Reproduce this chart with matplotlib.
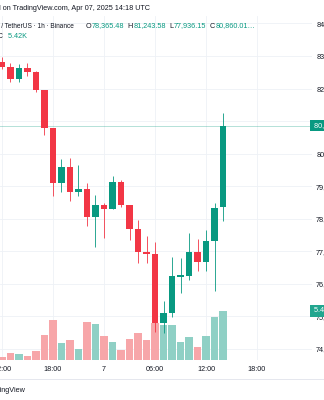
import matplotlib
matplotlib.use("Agg")
import matplotlib.pyplot as plt
import matplotlib.transforms as mtransforms

# BTC/USDT hourly candles (Binance), Apr 6 12:00 UTC -> Apr 7 14:00 UTC
opens = [82825, 82670, 82285, 82640, 82520, 81945, 80790, 79090, 79600, 78830,
         78930, 78040, 78410, 78310, 79120, 78425, 77680, 76990, 76920, 74785,
         75100, 76220, 76245, 76980, 76665, 77320, 78365.48]
highs = [82970, 82795, 82755, 82775, 82540, 81955, 80790, 79835, 79860, 79650,
         79090, 78730, 78495, 79315, 79190, 78425, 77965, 77485, 77295, 75475,
         76820, 76785, 77555, 77380, 77655, 78475, 81243.58]
lows = [82600, 82210, 82210, 82395, 81905, 80565, 78685, 78830, 78545, 78715,
        77780, 77145, 77400, 78290, 78370, 77350, 76650, 76650, 74535, 74485,
        74995, 75730, 76120, 76405, 76405, 75790, 77936.15]
closes = [82670, 82285, 82640, 82520, 81945, 80790, 79090, 79600, 78830, 78930,
          78040, 78410, 78310, 79120, 78425, 77680, 76965, 76920, 74785, 75100,
          76245, 76265, 76980, 76665, 77320, 78340, 80860.01]
volumes_k = [0.33, 0.81, 0.70, 0.44, 1.03, 2.77, 4.42, 1.88, 2.21, 1.22,
             4.20, 3.98, 2.65, 1.99, 1.11, 2.32, 2.99, 2.21, 4.09, 3.87,
             3.87, 1.99, 2.54, 1.44, 2.65, 4.76, 5.42]

price_ticks = [74000, 75000, 76000, 77000, 78000, 79000, 80000, 81000, 82000, 83000, 84000]
time_tick_pos = [0, 6, 12, 18, 24, 30]
time_tick_labels = ["12:00", "18:00", "7", "06:00", "12:00", "18:00"]

UP = "#089981"
DOWN = "#F23645"
UP_VOL = "#8fd0c5"
DOWN_VOL = "#f7a6a9"
TXT = "#131722"
GRID = "#eef1f6"

FONT = "Liberation Sans"
FS = 5.2
plt.rcParams["font.family"] = [FONT, "DejaVu Sans"]

W, H = 324, 400
fig = plt.figure(figsize=(W / 100, H / 100), dpi=100)
fig.patch.set_facecolor("white")


def fx(px):
    return px / W


def fy(py):
    return 1 - py / H


# pane: x 0..312 px, y 16..360 px
rect = [fx(0), fy(360), fx(312), (360 - 16) / H]
ax_vol = fig.add_axes(rect)
ax = fig.add_axes(rect, sharex=ax_vol)
ax.patch.set_visible(False)

n = len(opens)
idx = list(range(n))
ax.set_xlim(-0.235, 36.47)
ax.set_ylim(73663, 84228)
ax_vol.set_ylim(0, 38.05)

# grid drawn underneath everything
grid_tr = mtransforms.blended_transform_factory(ax_vol.transAxes, ax.transData)
for p in price_ticks:
    ax_vol.plot([0, 1], [p, p], color=GRID, lw=0.6, transform=grid_tr, zorder=0)
for t in time_tick_pos:
    ax_vol.axvline(t, color=GRID, lw=0.6, zorder=0)

# volume
vol_colors = [UP_VOL if c >= o else DOWN_VOL for o, c in zip(opens, closes)]
ax_vol.bar(idx, volumes_k, width=0.9, color=vol_colors, zorder=1)

# candles
colors = [UP if c >= o else DOWN for o, c in zip(opens, closes)]
ax.vlines(idx, lows, highs, colors=colors, lw=0.6, zorder=2)
bottoms = [min(o, c) for o, c in zip(opens, closes)]
heights = [max(abs(c - o), 25) for o, c in zip(opens, closes)]
ax.bar(idx, heights, bottom=bottoms, width=0.74, color=colors, zorder=3)

# last price line
last = closes[-1]
ax.axhline(last, color=UP, alpha=0.3, lw=0.7, zorder=1)

for a in (ax, ax_vol):
    for s in a.spines.values():
        s.set_visible(False)
ax_vol.set_yticks([])
ax_vol.tick_params(axis="x", length=0, labelbottom=False)

ax.yaxis.tick_right()
ax.set_yticks(price_ticks)
ax.set_yticklabels([f"{p:,.2f}" for p in price_ticks])
ax.tick_params(axis="y", length=0, pad=3.0, labelsize=FS, labelcolor=TXT)
ax.set_xticks(time_tick_pos)
ax.set_xticklabels(time_tick_labels)
ax.tick_params(axis="x", length=0, pad=4.6, labelsize=FS, labelcolor=TXT)

# price scale badges
tr_price = mtransforms.blended_transform_factory(ax.transAxes, ax.transData)
ax.text(1.0, last, f" {last:,.2f}", transform=tr_price, ha="left", va="center",
        fontsize=FS, color="white", clip_on=False, zorder=10,
        bbox=dict(boxstyle="square,pad=0.3", fc=UP, ec="none"))
tr_vol = mtransforms.blended_transform_factory(ax.transAxes, ax_vol.transData)
ax.text(1.0, volumes_k[-1], f" {volumes_k[-1]:.2f}K", transform=tr_vol, ha="left",
        va="center", fontsize=FS, color="white", clip_on=False, zorder=10,
        bbox=dict(boxstyle="square,pad=0.3", fc="#22a68f", ec="none"))

# header
fig.text(fx(150), fy(8.3), "Published on TradingView.com, Apr 07, 2025 14:18 UTC",
         ha="right", va="center", fontsize=FS, color=TXT)

t = fig.text(fx(74), fy(26), "Bitcoin / TetherUS · 1h · Binance", ha="right",
             va="center", fontsize=4.7, color=TXT)
segments = [("      O", TXT), (f"{opens[-1]:,.2f}", UP), ("  H", TXT), (f"{highs[-1]:,.2f}", UP),
            ("  L", TXT), (f"{lows[-1]:,.2f}", UP), ("  C", TXT), (f"{closes[-1]:,.2f}…", UP)]
for s, c in segments:
    t = ax.annotate(s, xy=(1, 0), xycoords=t, va="bottom", ha="left",
                    fontsize=FS, color=c, annotation_clip=False)

t = fig.text(fx(3.5), fy(36.7), "Vol · BTC", ha="right", va="center", fontsize=FS, color=TXT)
ax.annotate(f"  {volumes_k[-1]:.2f}K", xy=(1, 0), xycoords=t, va="bottom", ha="left",
            fontsize=FS, color=UP, annotation_clip=False)

# footer
fig.add_artist(plt.Line2D([0, 1], [fy(378.5), fy(378.5)], color="#e0e3eb", lw=0.6))
fig.text(fx(26), fy(390), "TradingView", ha="right", va="center", fontsize=FS,
         color=TXT)

fig.savefig("out.png", dpi=100)
